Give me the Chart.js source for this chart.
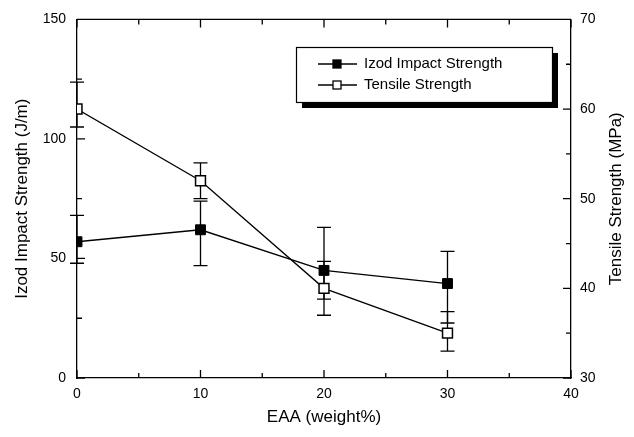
<!DOCTYPE html>
<html>
<head>
<meta charset="utf-8">
<script src="https://cdn.jsdelivr.net/npm/chart.js@4"></script>
<style>
  html, body { margin: 0; padding: 0; background: #fff; }
  #wrap { width: 634px; height: 437px; position: relative; }
</style>
</head>
<body>
<div id="wrap"><canvas id="c" width="634" height="437"></canvas></div>
<script>
// ---- data ----
const eaaValues = [0, 10, 20, 30];
const izodValues = [57, 62, 45, 39.5];
const izodLow = [48, 47, 33, 23];
const izodHigh = [68, 74, 63, 53];
const tensileValues = [60, 52, 40, 35];
const tensileLow = [58, 50, 37, 33];
const tensileHigh = [63, 54, 43, 37.4];
const xTickValues = [0, 10, 20, 30, 40];
const xMinorTicks = [5, 15, 25, 35];
const leftTickValues = [0, 50, 100, 150];
const leftMinorTicks = [25, 75, 125];
const rightTickValues = [30, 40, 50, 60, 70];
const rightMinorTicks = [35, 45, 55, 65];
const seriesNames = ['Izod Impact Strength', 'Tensile Strength'];
const xTitle = 'EAA (weight%)';
const leftTitle = 'Izod Impact Strength (J/m)';
const rightTitle = 'Tensile Strength (MPa)';

const FONT = "'Liberation Sans', Arial, Helvetica, sans-serif";

const errorBars = {
  id: 'errorBars',
  beforeDatasetsDraw(chart) {
    const ctx = chart.ctx;
    const xs = chart.scales.x;
    const sets = [
      { scale: chart.scales.y, lo: izodLow, hi: izodHigh },
      { scale: chart.scales.y1, lo: tensileLow, hi: tensileHigh }
    ];
    ctx.save();
    ctx.strokeStyle = '#000';
    ctx.lineWidth = 1.3;
    sets.forEach(s => {
      eaaValues.forEach((xv, i) => {
        const px = xs.getPixelForValue(xv);
        const y1 = s.scale.getPixelForValue(s.lo[i]);
        const y2 = s.scale.getPixelForValue(s.hi[i]);
        ctx.beginPath();
        ctx.moveTo(px, y1); ctx.lineTo(px, y2);
        ctx.moveTo(px - 7, y1); ctx.lineTo(px + 7, y1);
        ctx.moveTo(px - 7, y2); ctx.lineTo(px + 7, y2);
        ctx.stroke();
      });
    });
    ctx.restore();
  }
};

const frameTicks = {
  id: 'frameTicks',
  afterDraw(chart) {
    const ctx = chart.ctx;
    const a = chart.chartArea;
    const xs = chart.scales.x, yl = chart.scales.y, yr = chart.scales.y1;
    ctx.save();
    ctx.strokeStyle = '#000';
    ctx.lineWidth = 1.3;
    ctx.beginPath();
    ctx.moveTo(a.left, a.top); ctx.lineTo(a.right, a.top);
    const MAJ = 8, MIN = 5;
    xTickValues.forEach(v => {
      const p = xs.getPixelForValue(v);
      ctx.moveTo(p, a.bottom); ctx.lineTo(p, a.bottom - MAJ);
      ctx.moveTo(p, a.top); ctx.lineTo(p, a.top + MAJ);
    });
    xMinorTicks.forEach(v => {
      const p = xs.getPixelForValue(v);
      ctx.moveTo(p, a.bottom); ctx.lineTo(p, a.bottom - MIN);
      ctx.moveTo(p, a.top); ctx.lineTo(p, a.top + MIN);
    });
    leftTickValues.forEach(v => {
      const p = yl.getPixelForValue(v);
      ctx.moveTo(a.left, p); ctx.lineTo(a.left + MAJ, p);
    });
    leftMinorTicks.forEach(v => {
      const p = yl.getPixelForValue(v);
      ctx.moveTo(a.left, p); ctx.lineTo(a.left + MIN, p);
    });
    rightTickValues.forEach(v => {
      const p = yr.getPixelForValue(v);
      ctx.moveTo(a.right, p); ctx.lineTo(a.right - MAJ, p);
    });
    rightMinorTicks.forEach(v => {
      const p = yr.getPixelForValue(v);
      ctx.moveTo(a.right, p); ctx.lineTo(a.right - MIN, p);
    });
    ctx.stroke();

    // right axis title, reading bottom-to-top as in the reference
    ctx.save();
    ctx.translate(616, (a.top + a.bottom) / 2);
    ctx.rotate(-Math.PI / 2);
    ctx.font = '17px ' + FONT;
    ctx.fillStyle = '#000';
    ctx.textAlign = 'center';
    ctx.textBaseline = 'middle';
    ctx.fillText(rightTitle, 0, 0);
    ctx.restore();

    // legend box with shadow
    const bx = 296, by = 47, bw = 256, bh = 55;
    ctx.fillStyle = '#000';
    ctx.fillRect(bx + 6, by + 6, bw, bh);
    ctx.fillStyle = '#fff';
    ctx.fillRect(bx, by, bw, bh);
    ctx.lineWidth = 1.2;
    ctx.strokeRect(bx + 0.5, by + 0.5, bw, bh);
    ctx.font = '15px ' + FONT;
    ctx.textBaseline = 'middle';
    ctx.textAlign = 'left';
    chart.data.datasets.forEach((ds, i) => {
      const yy = by + 17 + i * 21;
      ctx.strokeStyle = '#000';
      ctx.lineWidth = 1.3;
      ctx.beginPath();
      ctx.moveTo(318, yy); ctx.lineTo(357, yy);
      ctx.stroke();
      ctx.fillStyle = ds.pointBackgroundColor;
      ctx.fillRect(333, yy - 4, 8, 8);
      ctx.strokeRect(333, yy - 4, 8, 8);
      ctx.fillStyle = '#000';
      ctx.fillText(ds.label, 364, yy);
    });
    ctx.restore();
  }
};

const pts = (vals) => eaaValues.map((x, i) => ({ x: x, y: vals[i] }));

new Chart(document.getElementById('c'), {
  type: 'line',
  data: {
    datasets: [
      {
        label: seriesNames[0],
        data: pts(izodValues),
        yAxisID: 'y',
        borderColor: '#000',
        borderWidth: 1.3,
        pointStyle: 'rect',
        pointRadius: 7,
        pointBackgroundColor: '#000',
        pointBorderColor: '#000',
        pointBorderWidth: 1,
        tension: 0
      },
      {
        label: seriesNames[1],
        data: pts(tensileValues),
        yAxisID: 'y1',
        borderColor: '#000',
        borderWidth: 1.3,
        pointStyle: 'rect',
        pointRadius: 7,
        pointBackgroundColor: '#fff',
        pointBorderColor: '#000',
        pointBorderWidth: 1.5,
        tension: 0
      }
    ]
  },
  options: {
    responsive: false,
    animation: false,
    events: [],
    layout: { padding: { top: 14, left: 0, right: 0, bottom: 0 } },
    plugins: { legend: { display: false }, tooltip: { enabled: false } },
    scales: {
      x: {
        type: 'linear', min: 0, max: 40,
        afterBuildTicks: s => { s.ticks = xTickValues.map(v => ({ value: v })); },
        afterFit: s => { s.height = 59; },
        grid: { display: false, drawTicks: false },
        border: { display: true, color: '#000', width: 1.3 },
        ticks: { color: '#000', padding: 8, font: { family: FONT, size: 14 }, maxRotation: 0 },
        title: { display: true, text: xTitle, color: '#000', font: { family: FONT, size: 17 }, padding: { top: 0, bottom: 9 } }
      },
      y: {
        type: 'linear', position: 'left', min: 0, max: 150,
        afterBuildTicks: s => { s.ticks = leftTickValues.map(v => ({ value: v })); },
        afterFit: s => { s.width = 77; },
        grid: { display: false, drawTicks: false },
        border: { display: true, color: '#000', width: 1.3 },
        ticks: { color: '#000', padding: 11, font: { family: FONT, size: 14 } },
        title: { display: true, text: leftTitle, color: '#000', font: { family: FONT, size: 17 }, padding: { top: 12, bottom: 0 } }
      },
      y1: {
        type: 'linear', position: 'right', min: 30, max: 70,
        afterBuildTicks: s => { s.ticks = rightTickValues.map(v => ({ value: v })); },
        afterFit: s => { s.width = 63; },
        grid: { display: false, drawTicks: false },
        border: { display: true, color: '#000', width: 1.3 },
        ticks: { color: '#000', padding: 9, font: { family: FONT, size: 14 } },
        title: { display: false, text: rightTitle }
      }
    }
  },
  plugins: [errorBars, frameTicks]
});
</script>
</body>
</html>
